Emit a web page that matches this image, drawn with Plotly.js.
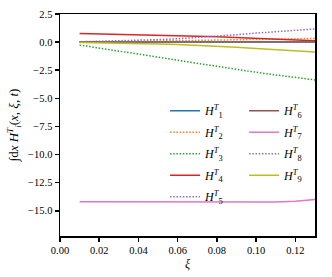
<!DOCTYPE html>
<html>
<head>
<meta charset="utf-8">
<script src="https://cdn.plot.ly/plotly-3.0.1.min.js"></script>
<style>html,body{margin:0;padding:0;background:#fff;}#chart{width:332px;height:277px;}</style>
</head>
<body>
<div id="chart"></div>
<script>
const xi = [0.01,0.02,0.03,0.04,0.05,0.06,0.07,0.08,0.09,0.10,0.11,0.12,0.13];
const H1 = [0.0,0.0,0.0,0.0,0.0,0.0,0.0,0.0,0.0,0.0,0.0,0.0,0.0];
const H2 = [0.0,0.02,0.04,0.06,0.08,0.10,0.13,0.16,0.19,0.22,0.26,0.30,0.33];
const H3 = [-0.27,-0.52,-0.78,-1.05,-1.33,-1.62,-1.90,-2.17,-2.43,-2.68,-2.92,-3.14,-3.36];
const H4 = [0.77,0.74,0.70,0.66,0.62,0.58,0.53,0.47,0.40,0.33,0.26,0.19,0.12];
const H5 = [0.03,0.07,0.11,0.16,0.22,0.30,0.40,0.52,0.66,0.80,0.94,1.06,1.17];
const H6 = [0.0,0.0,0.0,0.0,0.0,0.0,0.0,0.0,0.0,0.0,0.0,0.0,0.0];
const H7 = [-14.20,-14.20,-14.20,-14.21,-14.22,-14.23,-14.24,-14.25,-14.25,-14.24,-14.22,-14.15,-14.00];
const H8 = [-0.02,-0.02,-0.02,-0.02,-0.02,-0.02,-0.02,-0.02,-0.02,-0.02,-0.02,-0.02,-0.02];
const H9 = [-0.03,-0.05,-0.08,-0.12,-0.17,-0.21,-0.27,-0.35,-0.45,-0.57,-0.68,-0.78,-0.88];

const seriesNames = ['1','2','3','4','5','6','7','8','9'];
const seriesData = [H1,H2,H3,H4,H5,H6,H7,H8,H9];
const colors = ['#1f77b4','#ff7f0e','#2ca02c','#d62728','#9467bd','#8c564b','#e377c2','#7f7f7f','#bcbd22'];
const dashes = ['solid','1.5px,1.7px','1.5px,1.7px','solid','1.5px,1.7px','solid','solid','1.5px,1.7px','solid'];

const traces = seriesData.map((y,i)=>({
  x: xi, y: y, type:'scatter', mode:'lines',
  name: '<i>H</i><sup><i>T</i></sup><sub>'+seriesNames[i]+'</sub>',
  line:{color:colors[i], width:1.5, dash:dashes[i]},
  legendgroup: 'g'+i,
  legend: i<5 ? 'legend' : 'legend2'
}));

const font = {family:'"Liberation Serif", "DejaVu Serif", serif', size:10.5, color:'#000'};
const legendBase = {
  font:{family:'"Liberation Serif", serif', size:12, color:'#000'},
  bgcolor:'rgba(0,0,0,0)', borderwidth:0, tracegroupgap:2.5,
  xanchor:'left', yanchor:'top', itemwidth:30
};

const layout = {
  width:332, height:277,
  margin:{l:60, r:17, t:14, b:41},
  paper_bgcolor:'#fff', plot_bgcolor:'#fff',
  font: font,
  showlegend:true,
  xaxis:{
    range:[0,0.13], dtick:0.02, tick0:0, tickformat:'.2f',
    showgrid:false, zeroline:false,
    showline:true, linecolor:'#000', linewidth:1.5, mirror:true,
    ticks:'outside', ticklen:4, tickwidth:1.5, tickcolor:'#000',
    title:{text:'<i>ξ</i>', font:{family:'"Liberation Serif", serif', size:12}, standoff:4}
  },
  yaxis:{
    range:[-17.24,2.5], dtick:2.5, tick0:0, tickformat:'.1f',
    showgrid:false, zeroline:false,
    showline:true, linecolor:'#000', linewidth:1.5, mirror:true,
    ticks:'outside', ticklen:4, tickwidth:1.5, tickcolor:'#000',
    title:{text:'∫d<i>x</i> <i>H</i><sup><i>T</i></sup><sub><i>i</i></sub>(<i>x</i>, <i>ξ</i>, <i>t</i>)', font:{family:'"Liberation Serif", serif', size:13}, standoff:6}
  },
  legend: Object.assign({}, legendBase, {x:0.412, y:0.63}),
  legend2: Object.assign({}, legendBase, {x:0.722, y:0.63})
};

Plotly.newPlot('chart', traces, layout, {displayModeBar:false, staticPlot:true});
</script>
</body>
</html>
